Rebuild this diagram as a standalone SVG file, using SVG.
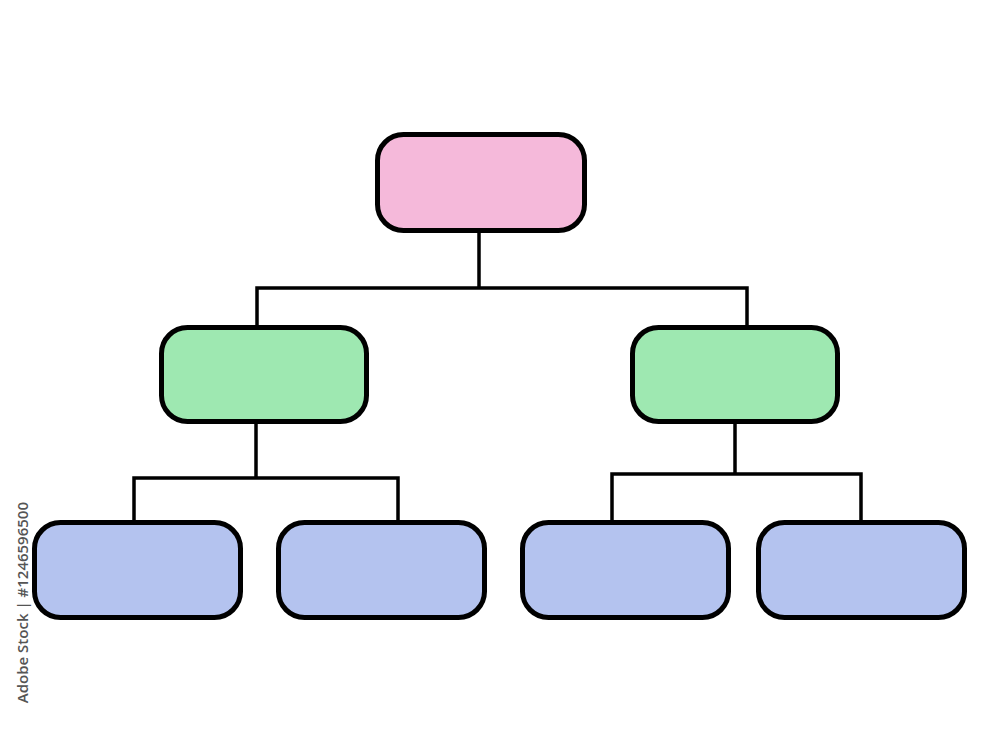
<svg xmlns="http://www.w3.org/2000/svg" width="1000" height="750" viewBox="0 0 1000 750">
<style>
.node{stroke:#000;stroke-width:5}
.root{fill:#F5B9DA}
.mid{fill:#9EE8B1}
.leaf{fill:#B4C3EF}
.conn{fill:none;stroke:#000;stroke-width:3.5;stroke-linejoin:miter;stroke-linecap:butt}
.wm{font-family:"Open Sans","Liberation Sans",sans-serif;font-size:15px;fill:#555;font-weight:600}
</style>
<rect width="1000" height="750" fill="#fff"/>
<g id="connectors">
<path class="conn" d="M479,231 V288 M257,327 V288 H747 V327"/>
<path class="conn" d="M256,422 V478 M134,522 V478 H398 V522"/>
<path class="conn" d="M735,422 V474 M612,522 V474 H861 V522"/>
</g>
<g id="root"><rect class="node root" x="377.5" y="134.5" width="207" height="96" rx="26"/></g>
<g id="mid-left"><rect class="node mid" x="161.5" y="327.5" width="205" height="94" rx="26"/></g>
<g id="mid-right"><rect class="node mid" x="632.5" y="327.5" width="205" height="94" rx="26"/></g>
<g id="leaf-1"><rect class="node leaf" x="34.5" y="522.5" width="206" height="95" rx="26"/></g>
<g id="leaf-2"><rect class="node leaf" x="278.5" y="522.5" width="206" height="95" rx="26"/></g>
<g id="leaf-3"><rect class="node leaf" x="522.5" y="522.5" width="206" height="95" rx="26"/></g>
<g id="leaf-4"><rect class="node leaf" x="758.5" y="522.5" width="206" height="95" rx="26"/></g>
<text class="wm" transform="translate(28,502) rotate(-90)" text-anchor="end">Adobe Stock | #1246596500</text>
</svg>
